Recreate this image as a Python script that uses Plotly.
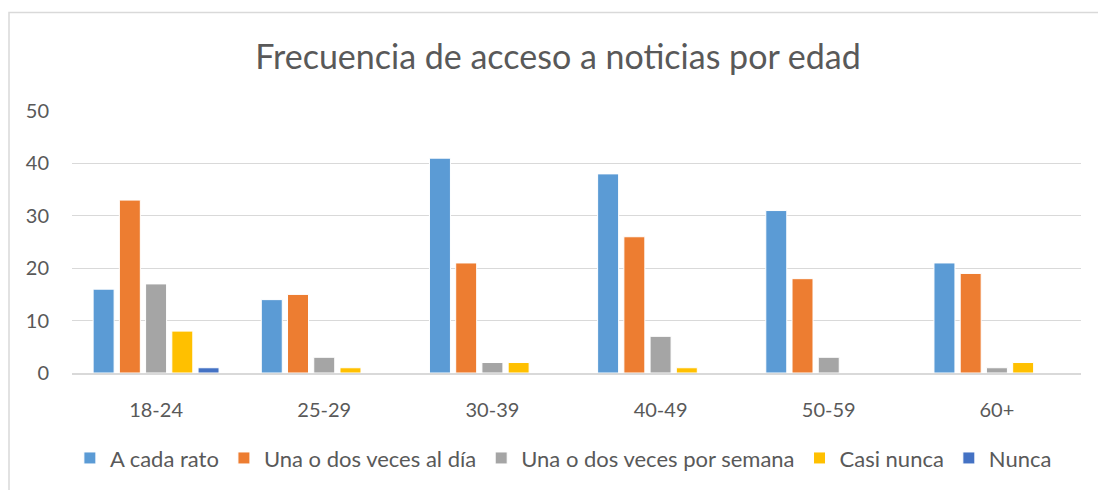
import plotly.graph_objects as go

categories = ["18-24", "25-29", "30-39", "40-49", "50-59", "60+"]
series_names = ["A cada rato", "Una o dos veces al día", "Una o dos veces por semana", "Casi nunca", "Nunca"]
a_cada_rato = [16, 14, 41, 38, 31, 21]
una_dos_dia = [33, 15, 21, 26, 18, 19]
una_dos_semana = [17, 3, 2, 7, 3, 1]
casi_nunca = [8, 1, 2, 1, 0, 2]
nunca = [1, 0, 0, 0, 0, 0]
y_ticks = [0, 10, 20, 30, 40, 50]

values = [a_cada_rato, una_dos_dia, una_dos_semana, casi_nunca, nunca]
colors = ["#5B9BD5", "#ED7D31", "#A5A5A5", "#FFC000", "#4472C4"]

FONT = "Lato, 'Open Sans', sans-serif"
TXT = "#595959"

W, H = 1098, 490
L, R, T, B = 72, 17, 111, 116
PW, PH = W - L - R, H - T - B

fig = go.Figure()
for name, vals, col in zip(series_names, values, colors):
    fig.add_trace(go.Bar(
        x=categories, y=vals, name=name,
        marker=dict(color=col, line=dict(color="white", width=1)),
    ))

fig.update_layout(
    width=W, height=H,
    margin=dict(l=L, r=R, t=T, b=B),
    paper_bgcolor="white", plot_bgcolor="white",
    barmode="group", bargap=0.22, bargroupgap=0.2,
    font=dict(family=FONT, color=TXT),
    title=dict(text="Frecuencia de acceso a noticias por edad",
               x=558 / W, xanchor="center", xref="container",
               y=1 - 57 / H, yanchor="middle", yref="container",
               font=dict(size=34, color=TXT, family=FONT)),
    legend=dict(orientation="h", x=0.487, xanchor="center", y=-0.32, yanchor="middle",
                font=dict(size=22, color=TXT), traceorder="normal",
                itemwidth=30, tracegroupgap=0),
    xaxis=dict(showgrid=False, showline=True, linecolor="#D9D9D9", linewidth=1.5,
               tickfont=dict(size=20, color=TXT), ticks="", ticklabelstandoff=18),
    yaxis=dict(range=[0, 50], tickvals=y_ticks, showgrid=True, gridcolor="#D9D9D9",
               gridwidth=1, zeroline=False, showline=False,
               tickfont=dict(size=20, color=TXT), ticks="", ticklabelstandoff=22),
    shapes=[dict(type="rect", xref="paper", yref="paper",
                 x0=(9 - L) / PW, x1=1.5, y0=-0.8, y1=(PH + T - 12) / PH,
                 line=dict(color="#D9D9D9", width=1.5), fillcolor="rgba(0,0,0,0)", layer="below")],
)

fig.write_html("out.html",
               config={"displayModeBar": False},
               post_script="document.body.style.margin='0';document.body.style.overflow='hidden';")
